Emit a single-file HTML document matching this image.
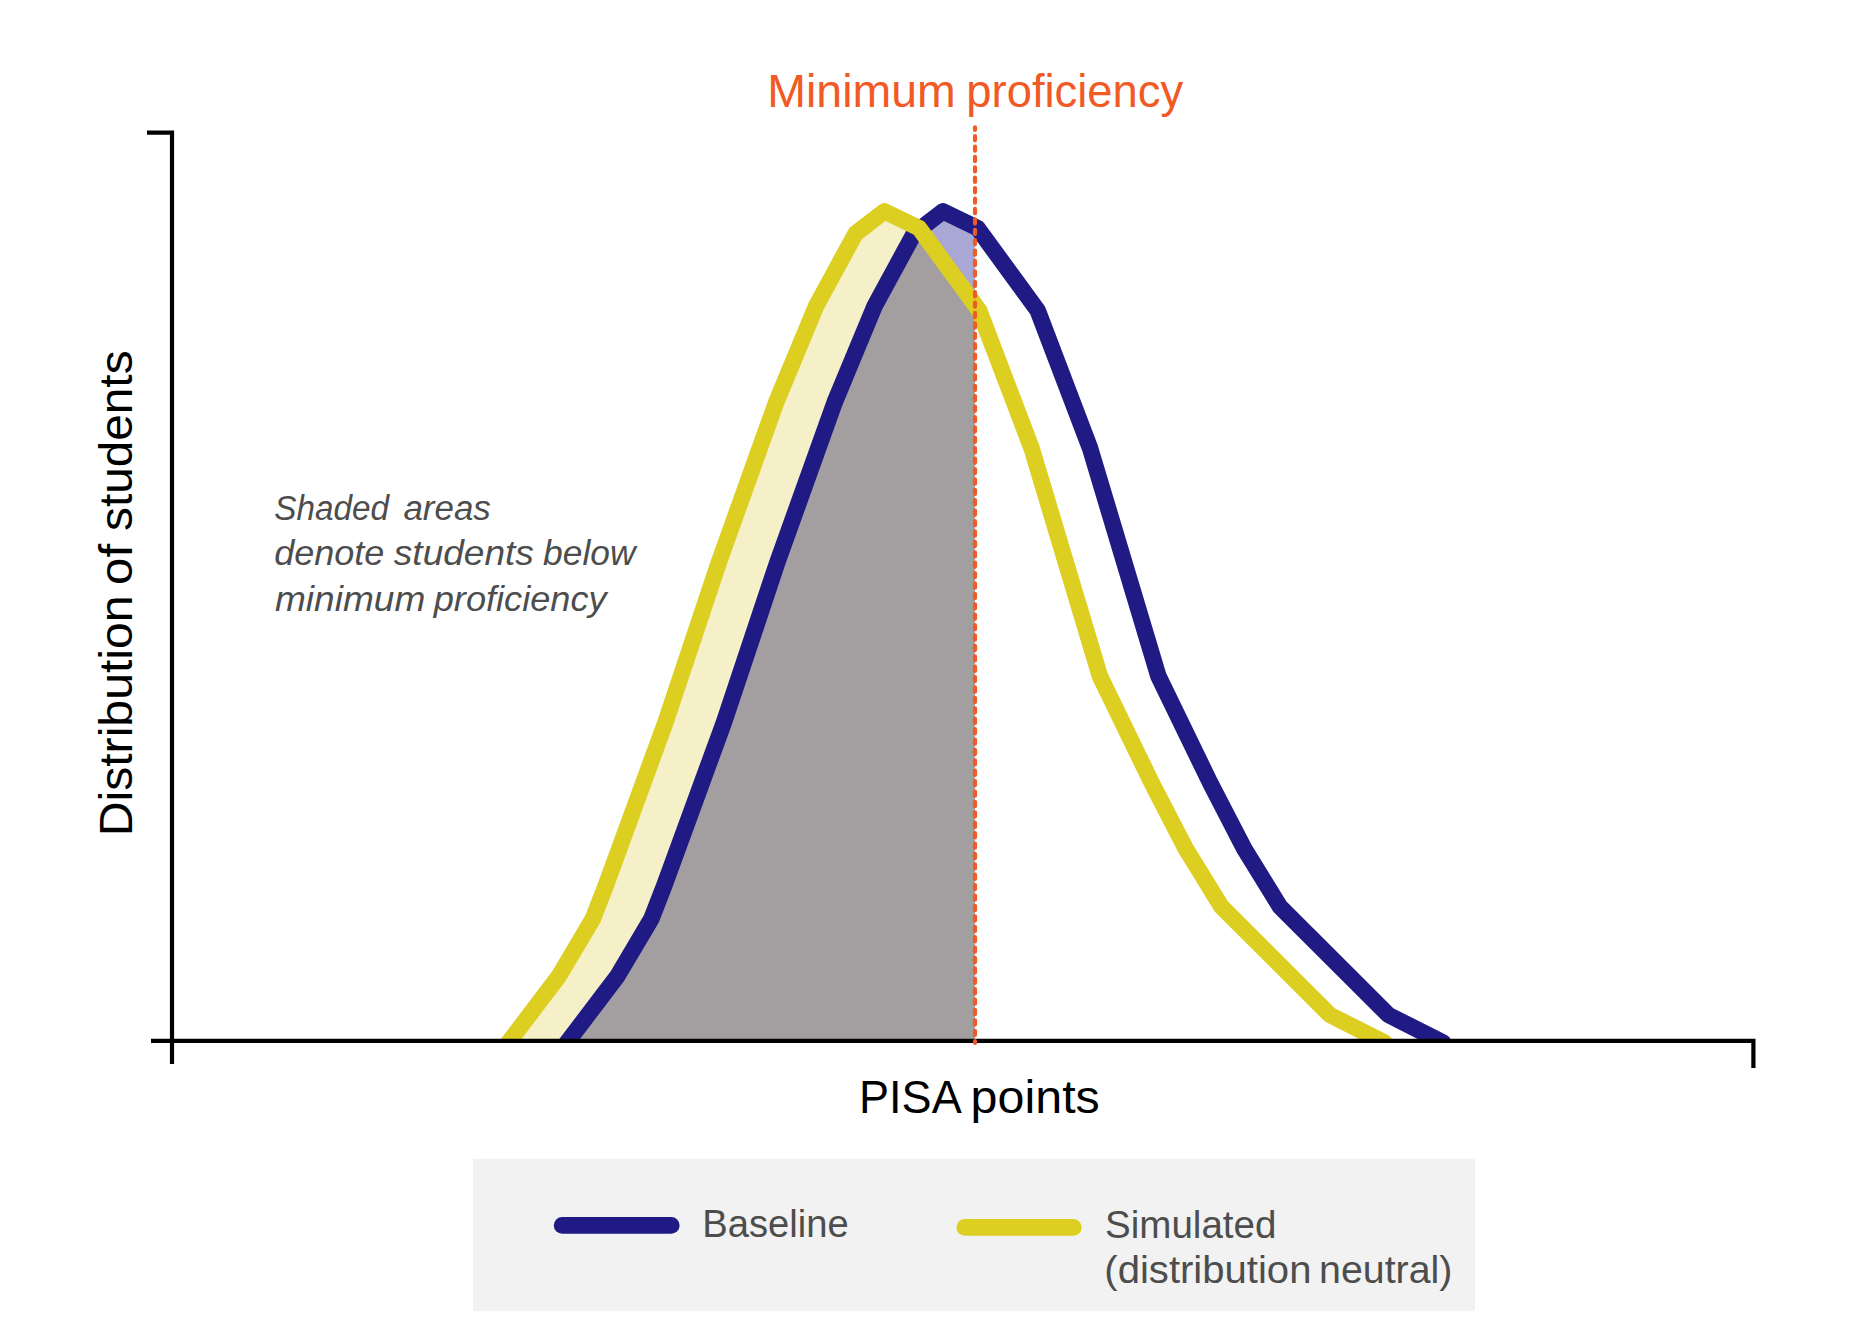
<!DOCTYPE html>
<html><head><meta charset="utf-8"><title>PISA distribution</title>
<style>
html,body{margin:0;padding:0;background:#fff;}
svg{display:block;font-family:"Liberation Sans",sans-serif;}
</style></head>
<body>
<svg width="1861" height="1326" viewBox="0 0 1861 1326">
<defs>
<clipPath id="above"><rect x="0" y="0" width="1861" height="1040.5"/></clipPath>
<clipPath id="yfill"><polygon points="502.8,1050.0 558.6,976.6 592.9,918.7 606.0,885.0 665.4,722.5 718.8,562.5 776.3,402.0 816.1,306.1 855.5,233.6 884.5,211.3 919.1,228.2 975.0,304.7 975.0,1050.0 502.8,1050.0"/></clipPath>
</defs>
<rect width="1861" height="1326" fill="#ffffff"/>
<!-- legend box -->
<rect x="473" y="1158.8" width="1002.1" height="152.3" fill="#f2f2f2"/>
<g clip-path="url(#above)">
<polygon points="502.8,1050.0 558.6,976.6 592.9,918.7 606.0,885.0 665.4,722.5 718.8,562.5 776.3,402.0 816.1,306.1 855.5,233.6 884.5,211.3 919.1,228.2 975.0,304.7 975.0,1050.0 502.8,1050.0" fill="#f5f0c8"/>
<polygon points="561.3,1050.0 617.1,976.6 651.4,918.7 664.5,885.0 723.9,722.5 777.3,562.5 834.8,402.0 874.6,306.1 914.0,233.6 943.0,211.3 975.0,226.9 975.0,1050.0 561.3,1050.0" fill="#a9a7d4"/>
<polygon points="561.3,1050.0 617.1,976.6 651.4,918.7 664.5,885.0 723.9,722.5 777.3,562.5 834.8,402.0 874.6,306.1 914.0,233.6 943.0,211.3 975.0,226.9 975.0,1050.0 561.3,1050.0" fill="#a39fa0" clip-path="url(#yfill)"/>
<polyline points="561.3,1050.0 617.1,976.6 651.4,918.7 664.5,885.0 723.9,722.5 777.3,562.5 834.8,402.0 874.6,306.1 914.0,233.6 943.0,211.3 977.6,228.2 1037.6,310.3 1090.0,448.0 1158.4,676.1 1210.0,782.5 1244.2,848.6 1279.9,906.6 1388.5,1015.0 1443.2,1042.7" fill="none" stroke="#201a84" stroke-width="16.5" stroke-linejoin="round" stroke-linecap="round"/>
<polyline points="502.8,1050.0 558.6,976.6 592.9,918.7 606.0,885.0 665.4,722.5 718.8,562.5 776.3,402.0 816.1,306.1 855.5,233.6 884.5,211.3 919.1,228.2 979.1,310.3 1031.5,448.0 1099.9,676.1 1151.5,782.5 1185.7,848.6 1221.4,906.6 1330.0,1015.0 1384.7,1042.7" fill="none" stroke="#dccf22" stroke-width="16.5" stroke-linejoin="round" stroke-linecap="round"/>
</g>
<!-- axes -->
<g stroke="#000" stroke-width="4.2" fill="none">
<polyline points="147,132.7 172,132.7 172,1064"/>
<polyline points="151,1040.9 1753.4,1040.9 1753.4,1068"/>
</g>
<!-- dashed line -->
<line x1="975.0" y1="127.4" x2="975.0" y2="1043.0" stroke="#f15a24" stroke-width="4.15" stroke-linecap="round" stroke-dasharray="4.25 6.153" stroke-dashoffset="1.72"/>
<!-- labels -->
<text y="107.4" font-size="46" fill="#f15a24"><tspan x="767.39" textLength="188.32" lengthAdjust="spacingAndGlyphs">Minimum</tspan> <tspan x="966.37" textLength="216.84" lengthAdjust="spacingAndGlyphs">proficiency</tspan></text>
<text y="1113.4" font-size="46" fill="#000"><tspan x="859.02" textLength="100.24" lengthAdjust="spacingAndGlyphs">PISA</tspan> <tspan x="970.63" textLength="129.15" lengthAdjust="spacingAndGlyphs">points</tspan></text>
<text transform="translate(132,840) rotate(-90)" font-size="46" fill="#000"><tspan x="3.67" textLength="240.93" lengthAdjust="spacingAndGlyphs">Distribution</tspan> <tspan x="255.14" textLength="40.93" lengthAdjust="spacingAndGlyphs">of</tspan> <tspan x="309.09" textLength="180.43" lengthAdjust="spacingAndGlyphs">students</tspan></text>
<g font-size="35.5" font-style="italic" fill="#4d4d4d">
<text y="519.9"><tspan x="274.36" textLength="114.76" lengthAdjust="spacingAndGlyphs">Shaded</tspan> <tspan x="403.45" textLength="87.40" lengthAdjust="spacingAndGlyphs">areas</tspan></text>
<text y="565.2"><tspan x="274.25" textLength="110.15" lengthAdjust="spacingAndGlyphs">denote</tspan> <tspan x="393.83" textLength="140.06" lengthAdjust="spacingAndGlyphs">students</tspan> <tspan x="543.09" textLength="92.41" lengthAdjust="spacingAndGlyphs">below</tspan></text>
<text y="610.8"><tspan x="274.91" textLength="150.38" lengthAdjust="spacingAndGlyphs">minimum</tspan> <tspan x="433.78" textLength="172.82" lengthAdjust="spacingAndGlyphs">proficiency</tspan></text>
</g>
<!-- legend -->
<line x1="562.2" y1="1225.4" x2="671.2" y2="1225.4" stroke="#201a84" stroke-width="16.8" stroke-linecap="round"/>
<line x1="964.8" y1="1227.4" x2="1073.3" y2="1227.4" stroke="#dccf22" stroke-width="16.8" stroke-linecap="round"/>
<g font-size="38" fill="#4d4d4d">
<text y="1237"><tspan x="702.27" textLength="146.46" lengthAdjust="spacingAndGlyphs">Baseline</tspan></text>
<text y="1238.4"><tspan x="1105.06" textLength="171.40" lengthAdjust="spacingAndGlyphs">Simulated</tspan></text>
<text y="1283.2"><tspan x="1104.33" textLength="207.09" lengthAdjust="spacingAndGlyphs">(distribution</tspan> <tspan x="1319.08" textLength="133.25" lengthAdjust="spacingAndGlyphs">neutral)</tspan></text>
</g>
</svg>
</body></html>
